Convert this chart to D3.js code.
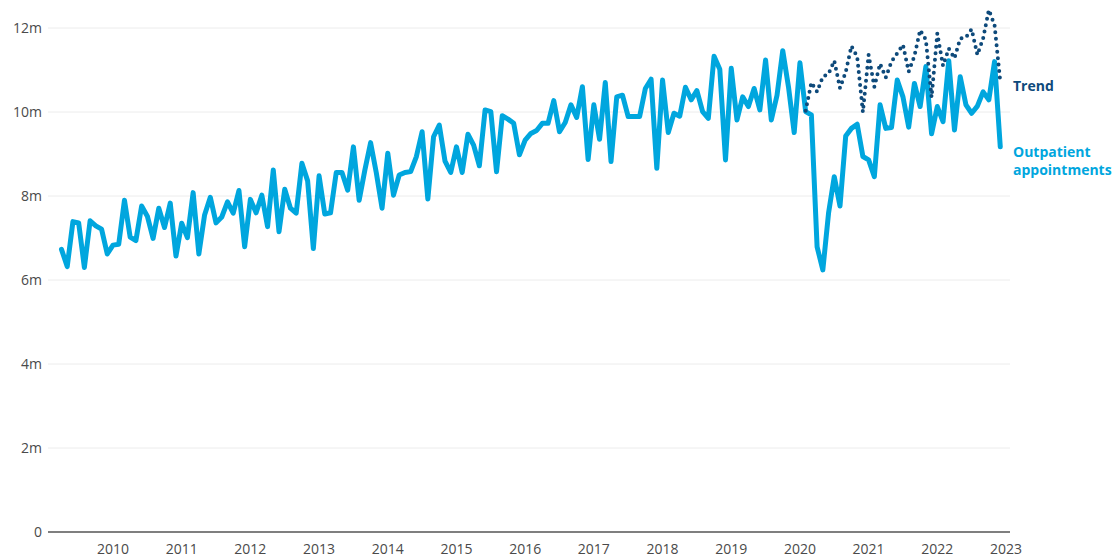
<!DOCTYPE html>
<html>
<head>
<meta charset="utf-8">
<script src="https://cdn.jsdelivr.net/npm/d3@7"></script>
<style>
  html, body { margin: 0; padding: 0; background: #fff; }
  svg { display: block; }
  .ylab { font-family: "Open Sans", sans-serif; font-size: 14px; fill: #4a4a4a; }
  .xlab { font-family: "Open Sans", sans-serif; font-size: 14px; fill: #4a4a4a; }
  .lbl { font-family: "Open Sans", sans-serif; font-size: 14px; font-weight: 700; }
</style>
</head>
<body>
<div id="chart"></div>
<script>
// ---- data ----
const startYear = 2009, startMonth = 4; // April 2009, monthly
const outpatient = [
  6.73, 6.32, 7.39, 7.36, 6.30, 7.41, 7.29, 7.21, 6.62, 6.83, 6.85, 7.90,
  7.02, 6.94, 7.76, 7.52, 6.99, 7.71, 7.25, 7.83, 6.57, 7.35, 7.01, 8.08,
  6.62, 7.55, 7.97, 7.36, 7.50, 7.86, 7.59, 8.13, 6.79, 7.92, 7.60, 8.02,
  7.27, 8.62, 7.15, 8.16, 7.71, 7.59, 8.78, 8.36, 6.75, 8.48, 7.57, 7.60,
  8.56, 8.56, 8.14, 9.17, 7.90, 8.62, 9.27, 8.55, 7.71, 9.02, 8.02, 8.50,
  8.56, 8.58, 8.94, 9.53, 7.93, 9.41, 9.69, 8.83, 8.56, 9.17, 8.56, 9.47,
  9.21, 8.72, 10.05, 10.01, 8.58, 9.91, 9.83, 9.73, 8.98, 9.33, 9.49, 9.56,
  9.73, 9.73, 10.27, 9.53, 9.75, 10.17, 9.87, 10.60, 8.87, 10.17, 9.35, 10.70,
  8.82, 10.36, 10.40, 9.89, 9.89, 9.89, 10.56, 10.78, 8.66, 10.76, 9.51, 9.97,
  9.90, 10.59, 10.29, 10.51, 10.01, 9.85, 11.33, 11.02, 8.86, 11.04, 9.81, 10.36,
  10.13, 10.56, 10.05, 11.24, 9.81, 10.40, 11.46, 10.60, 9.51, 11.17, 10.01, 9.93,
  6.79, 6.24, 7.59, 8.46, 7.76, 9.43, 9.61, 9.71, 8.94, 8.86, 8.46, 10.17,
  9.61, 9.63, 10.76, 10.36, 9.64, 10.68, 10.13, 11.08, 9.48, 10.13, 9.77, 11.22,
  9.57, 10.84, 10.17, 9.97, 10.14, 10.48, 10.29, 11.20, 9.17
];
const trendStartIndex = 130; // Feb 2020
const trend = [
  10.03, 10.70, 10.48, 10.84, 10.91, 11.22, 10.57, 10.95, 11.57, 11.32, 10.00, 11.36,
  10.60, 11.15, 10.82, 11.20, 11.40, 11.60, 10.96, 11.33, 11.95, 11.72, 10.35, 11.87,
  11.10, 11.51, 11.28, 11.75, 11.78, 11.97, 11.36, 11.75, 12.43, 12.07, 10.72
];
const yTicks = [0, 2, 4, 6, 8, 10, 12];
const yTickLabels = ["0", "2m", "4m", "6m", "8m", "10m", "12m"];
const xTicks = [2010, 2011, 2012, 2013, 2014, 2015, 2016, 2017, 2018, 2019, 2020, 2021, 2022, 2023];
const seriesLabels = { trend: ["Trend"], outpatient: ["Outpatient", "appointments"] };

// ---- layout ----
const W = 1115, H = 558;
const svg = d3.select("#chart").append("svg").attr("width", W).attr("height", H);

const x = d3.scaleLinear().domain([2010, 2023]).range([113, 1006]);
const y = d3.scaleLinear().domain([0, 12]).range([532, 28]);
const tOf = i => startYear + (startMonth - 1 + i) / 12;

const gridLeft = 48, gridRight = 1010;

// gridlines
svg.append("g").selectAll("line").data(yTicks.filter(d => d !== 0)).join("line")
  .attr("x1", gridLeft).attr("x2", gridRight)
  .attr("y1", d => y(d)).attr("y2", d => y(d))
  .attr("stroke", "#ececec").attr("stroke-width", 1);

// y labels
svg.append("g").selectAll("text").data(yTicks).join("text")
  .attr("class", "ylab")
  .attr("x", 42).attr("y", d => y(d)).attr("dy", "0.35em")
  .attr("text-anchor", "end")
  .text((d, i) => yTickLabels[i]);

// x labels
svg.append("g").selectAll("text").data(xTicks).join("text")
  .attr("class", "xlab")
  .attr("x", d => x(d)).attr("y", 554)
  .attr("text-anchor", "middle")
  .text(d => d);

// lines
const line = d3.line().x(d => x(d.t)).y(d => y(d.v));
const outData = outpatient.map((v, i) => ({ t: tOf(i), v }));
const trendData = trend.map((v, i) => ({ t: tOf(trendStartIndex + i), v }));

svg.append("path").datum(outData)
  .attr("d", line).attr("fill", "none")
  .attr("stroke", "#00a6de").attr("stroke-width", 5)
  .attr("stroke-linejoin", "round").attr("stroke-linecap", "round");

svg.append("path").datum(trendData)
  .attr("d", line).attr("fill", "none")
  .attr("stroke", "#0e4a7b").attr("stroke-width", 4)
  .attr("stroke-linecap", "round")
  .attr("stroke-dasharray", "0 6.5");

// zero axis line
svg.append("line")
  .attr("x1", gridLeft).attr("x2", gridRight)
  .attr("y1", y(0)).attr("y2", y(0))
  .attr("stroke", "#555").attr("stroke-width", 1.5);

// series labels
svg.append("text").attr("class", "lbl").attr("fill", "#0e4a7b")
  .attr("x", 1013).attr("y", 91)
  .text(seriesLabels.trend[0]);

const ol = svg.append("text").attr("class", "lbl").attr("fill", "#00a6de")
  .attr("x", 1013).attr("y", 157);
seriesLabels.outpatient.forEach((s, i) => {
  ol.append("tspan").attr("x", 1013).attr("dy", i === 0 ? 0 : 18).text(s);
});
</script>
</body>
</html>
